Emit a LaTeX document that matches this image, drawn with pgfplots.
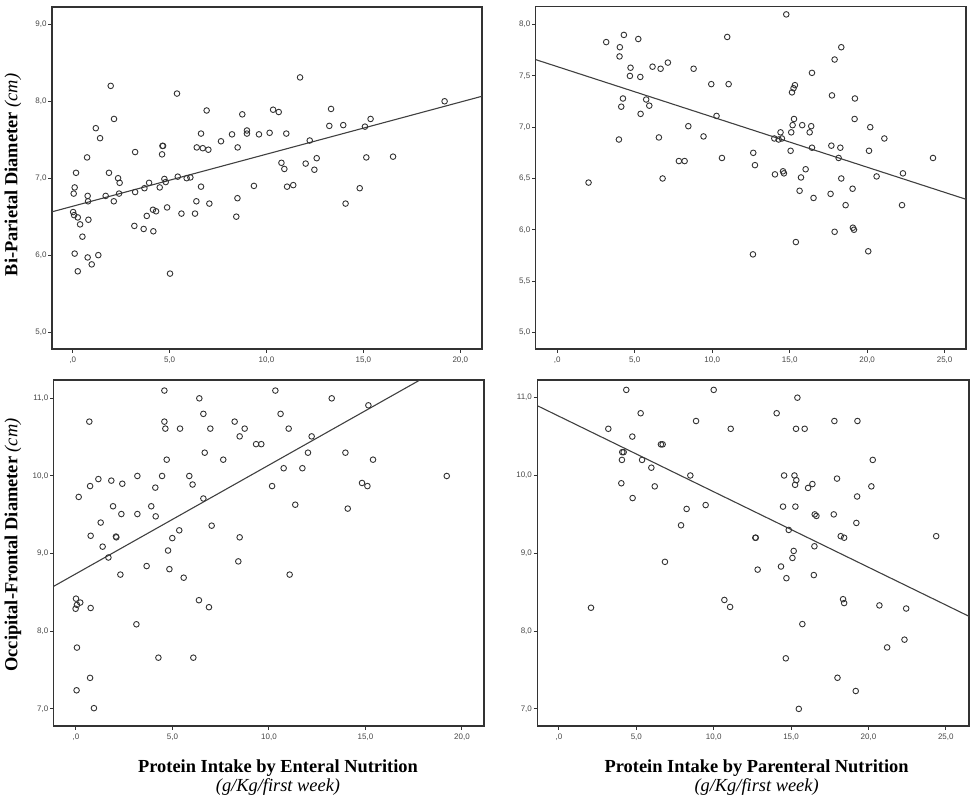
\documentclass[border=0pt]{standalone}
\usepackage{fontspec}
\setmainfont{Liberation Serif}
\newfontfamily\tickfont{Liberation Sans}
\usepackage{pgfplots}
\usepackage{pgfplotstable}
\pgfplotsset{compat=1.18}

\pgfplotstableread{
x y
1.96 8.20
5.38 8.10
11.73 8.31
19.19 8.00
6.91 7.88
10.34 7.89
10.63 7.86
13.33 7.90
8.75 7.83
2.13 7.77
15.37 7.77
1.19 7.65
13.24 7.68
13.96 7.69
15.08 7.67
1.41 7.52
6.62 7.58
8.22 7.57
8.99 7.62
8.99 7.58
9.61 7.57
10.16 7.59
11.02 7.58
7.65 7.48
12.23 7.49
4.63 7.42
4.66 7.42
6.40 7.40
6.71 7.39
7.00 7.37
8.51 7.40
3.22 7.34
4.61 7.31
0.74 7.27
15.15 7.27
16.53 7.28
12.59 7.26
10.77 7.20
12.02 7.19
10.92 7.12
12.47 7.11
0.17 7.07
1.87 7.07
2.34 7.00
2.42 6.94
3.94 6.94
4.73 6.99
4.80 6.95
5.42 7.02
5.88 7.00
6.07 7.01
6.62 6.89
9.35 6.90
11.06 6.89
11.38 6.91
0.10 6.88
0.05 6.80
0.77 6.77
1.70 6.77
2.39 6.80
3.22 6.82
3.70 6.87
4.49 6.88
14.81 6.87
0.79 6.70
2.12 6.70
6.38 6.70
8.50 6.74
7.05 6.67
14.08 6.67
4.87 6.62
4.14 6.59
4.30 6.57
0.02 6.56
0.07 6.52
0.26 6.49
3.82 6.51
5.61 6.54
6.31 6.54
8.44 6.50
0.81 6.46
0.38 6.40
3.18 6.38
3.66 6.34
4.16 6.31
0.50 6.24
0.10 6.02
1.32 6.00
0.77 5.97
0.98 5.88
0.26 5.79
5.02 5.76
}\bpdent

\pgfplotstableread{
x y
14.78 8.10
4.30 7.90
3.16 7.83
5.23 7.86
10.97 7.88
4.04 7.78
18.33 7.78
4.02 7.69
17.90 7.66
4.73 7.58
6.15 7.59
6.67 7.57
7.14 7.63
8.80 7.57
4.69 7.50
5.36 7.49
16.44 7.53
9.94 7.42
11.06 7.42
15.34 7.41
15.25 7.38
15.15 7.34
17.73 7.31
19.21 7.28
4.24 7.28
5.74 7.27
4.13 7.20
5.94 7.21
5.38 7.13
10.28 7.11
15.28 7.08
19.19 7.08
15.19 7.02
15.81 7.02
16.39 7.01
8.46 7.01
20.20 7.00
14.41 6.95
15.10 6.95
16.29 6.95
9.44 6.91
6.56 6.90
14.01 6.89
14.29 6.88
14.50 6.89
21.11 6.89
3.98 6.88
16.44 6.80
17.69 6.82
18.27 6.80
15.06 6.77
20.12 6.77
12.65 6.75
18.16 6.70
10.63 6.70
24.25 6.70
7.85 6.67
8.22 6.67
12.76 6.63
16.03 6.59
14.57 6.57
14.63 6.55
14.05 6.54
22.31 6.55
20.61 6.52
15.73 6.51
6.80 6.50
18.33 6.50
2.02 6.46
19.06 6.40
15.64 6.38
17.64 6.35
16.54 6.31
18.61 6.24
22.25 6.24
19.08 6.02
19.15 6.00
17.90 5.98
15.40 5.88
20.07 5.79
12.63 5.76
}\bppar

\pgfplotstableread{
x y
4.58 11.10
10.33 11.10
6.39 11.00
13.25 11.00
15.15 10.91
0.69 10.70
4.58 10.70
8.22 10.70
6.60 10.80
10.60 10.80
4.63 10.61
5.39 10.61
6.96 10.61
8.74 10.61
11.02 10.61
8.48 10.51
12.21 10.51
9.33 10.41
9.60 10.41
6.67 10.30
12.02 10.30
13.96 10.30
4.70 10.21
7.63 10.21
15.39 10.21
10.76 10.10
11.73 10.10
3.18 10.00
4.46 10.00
5.87 10.00
19.21 10.00
1.16 9.96
1.83 9.94
2.40 9.90
14.82 9.91
0.73 9.87
6.04 9.89
10.16 9.87
15.10 9.87
4.11 9.85
0.14 9.73
6.60 9.71
11.36 9.63
1.92 9.61
3.90 9.61
14.08 9.58
2.35 9.51
3.18 9.51
4.13 9.48
1.28 9.40
7.03 9.36
5.35 9.30
0.76 9.23
2.07 9.22
2.09 9.21
4.99 9.20
8.48 9.21
1.38 9.09
4.77 9.04
1.68 8.95
8.41 8.90
3.66 8.84
4.84 8.80
2.30 8.73
11.07 8.73
5.58 8.69
0.00 8.42
0.22 8.37
0.05 8.34
-0.02 8.29
0.76 8.30
6.37 8.40
6.89 8.31
3.13 8.09
0.05 7.79
4.27 7.66
6.08 7.66
0.73 7.40
0.03 7.24
0.93 7.01
}\ofdent

\pgfplotstableread{
x y
4.35 11.10
10.00 11.10
15.41 11.00
5.28 10.80
14.07 10.80
8.86 10.70
17.80 10.70
19.29 10.70
3.19 10.60
11.10 10.60
15.32 10.60
15.88 10.60
4.74 10.50
6.59 10.40
6.70 10.40
4.09 10.30
4.18 10.30
4.07 10.20
5.37 10.20
20.28 10.20
5.97 10.10
8.49 10.00
14.55 10.00
15.22 10.00
15.34 9.94
17.97 9.96
4.03 9.90
15.26 9.88
16.38 9.89
6.19 9.86
16.10 9.84
20.19 9.86
4.76 9.71
19.27 9.73
9.48 9.62
14.48 9.60
15.28 9.60
8.25 9.57
17.76 9.50
16.53 9.50
16.64 9.48
7.89 9.36
19.22 9.39
14.85 9.30
12.69 9.20
12.72 9.20
18.21 9.22
18.43 9.20
24.38 9.22
16.51 9.09
15.17 9.03
15.09 8.94
6.85 8.89
14.35 8.83
12.84 8.79
14.70 8.68
16.47 8.72
10.69 8.40
11.06 8.31
18.36 8.41
18.43 8.36
2.07 8.30
20.71 8.33
22.44 8.29
15.73 8.09
22.33 7.89
21.21 7.79
14.66 7.65
18.00 7.40
19.18 7.23
15.50 7.00
}\ofpar

\pgfplotsset{
  sp/.style={
    scale only axis,
    anchor=south west,
    axis line style={draw=black!80, line width=0.55pt},
    tick align=outside,
    major tick length=1.8pt,
    tick style={draw=black!80, line width=0.5pt},
    xtick pos=bottom, ytick pos=left,
    ticklabel style={font=\tickfont\fontsize{4}{4.5}\selectfont, text=black!72, inner sep=0.7pt},
    xticklabel style={yshift=-1.2pt},
  },
  dots/.style={only marks, mark=o, mark size=1.4pt, draw=black!80, mark options={line width=0.45pt}},
  fit/.style={black!75, line width=0.55pt, no marks},
}

\begin{document}
\begin{tikzpicture}
\useasboundingbox (0,0) rectangle (488pt,-402pt);

% Panel 1
\begin{axis}[sp, at={(26pt,-174.5pt)}, width=215pt, height=171pt,
  xmin=-1.07, xmax=21.12, ymin=4.78, ymax=9.225,
  xtick={0,5,10,15,20}, xticklabels={{,0},{5,0},{10,0},{15,0},{20,0}},
  ytick={5,6,7,8,9}, yticklabels={{5,0},{6,0},{7,0},{8,0},{9,0}}]
\addplot[dots] table[x=x,y=y] {\bpdent};
\addplot[fit] coordinates {(-1.07,6.563) (21.12,8.065)};
\end{axis}

% Panel 2
\begin{axis}[sp, at={(267.85pt,-174.5pt)}, width=215.15pt, height=171.15pt,
  xmin=-1.39, xmax=26.38, ymin=4.837, ymax=8.175,
  xtick={0,5,10,15,20,25}, xticklabels={{,0},{5,0},{10,0},{15,0},{20,0},{25,0}},
  ytick={5,5.5,6,6.5,7,7.5,8}, yticklabels={{5,0},{5,5},{6,0},{6,5},{7,0},{7,5},{8,0}}]
\addplot[dots] table[x=x,y=y] {\bppar};
\addplot[fit] coordinates {(-1.39,7.659) (26.38,6.297)};
\end{axis}

% Panel 3
\begin{axis}[sp, at={(26.85pt,-363pt)}, width=215.15pt, height=173pt,
  xmin=-1.155, xmax=21.14, ymin=6.78, ymax=11.236,
  xtick={0,5,10,15,20}, xticklabels={{,0},{5,0},{10,0},{15,0},{20,0}},
  ytick={7,8,9,10,11}, yticklabels={{7,0},{8,0},{9,0},{10,0},{11,0}}]
\addplot[dots] table[x=x,y=y] {\ofdent};
\addplot[fit] coordinates {(-1.157,8.579) (17.82,11.236)};
\end{axis}

% Panel 4
\begin{axis}[sp, at={(268.65pt,-363pt)}, width=215.85pt, height=173pt,
  xmin=-1.40, xmax=26.5, ymin=6.78, ymax=11.227,
  xtick={0,5,10,15,20,25}, xticklabels={{,0},{5,0},{10,0},{15,0},{20,0},{25,0}},
  ytick={7,8,9,10,11}, yticklabels={{7,0},{8,0},{9,0},{10,0},{11,0}}]
\addplot[dots] table[x=x,y=y] {\ofpar};
\addplot[fit] coordinates {(-1.40,10.897) (26.5,8.190)};
\end{axis}

% Axis titles
\node[rotate=90, anchor=base, inner sep=0pt, font=\fontsize{9.2}{11}\selectfont] at (8.7pt,-87.5pt)
  {\textbf{Bi-Parietal Diameter} \textit{(cm)}};
\node[rotate=90, anchor=base, inner sep=0pt, font=\fontsize{9.2}{11}\selectfont] at (8.7pt,-272.5pt)
  {\textbf{Occipital-Frontal Diameter} \textit{(cm)}};
\node[anchor=base, inner sep=0pt, font=\fontsize{9.2}{11}\selectfont\bfseries] at (139pt,-386pt)
  {Protein Intake by Enteral Nutrition};
\node[anchor=base, inner sep=0pt, font=\fontsize{9.2}{11}\selectfont\itshape] at (139pt,-395.5pt)
  {(g/Kg/first week)};
\node[anchor=base, inner sep=0pt, font=\fontsize{9.2}{11}\selectfont\bfseries] at (378.3pt,-386pt)
  {Protein Intake by Parenteral Nutrition};
\node[anchor=base, inner sep=0pt, font=\fontsize{9.2}{11}\selectfont\itshape] at (378.3pt,-395.5pt)
  {(g/Kg/first week)};
\end{tikzpicture}
\end{document}
